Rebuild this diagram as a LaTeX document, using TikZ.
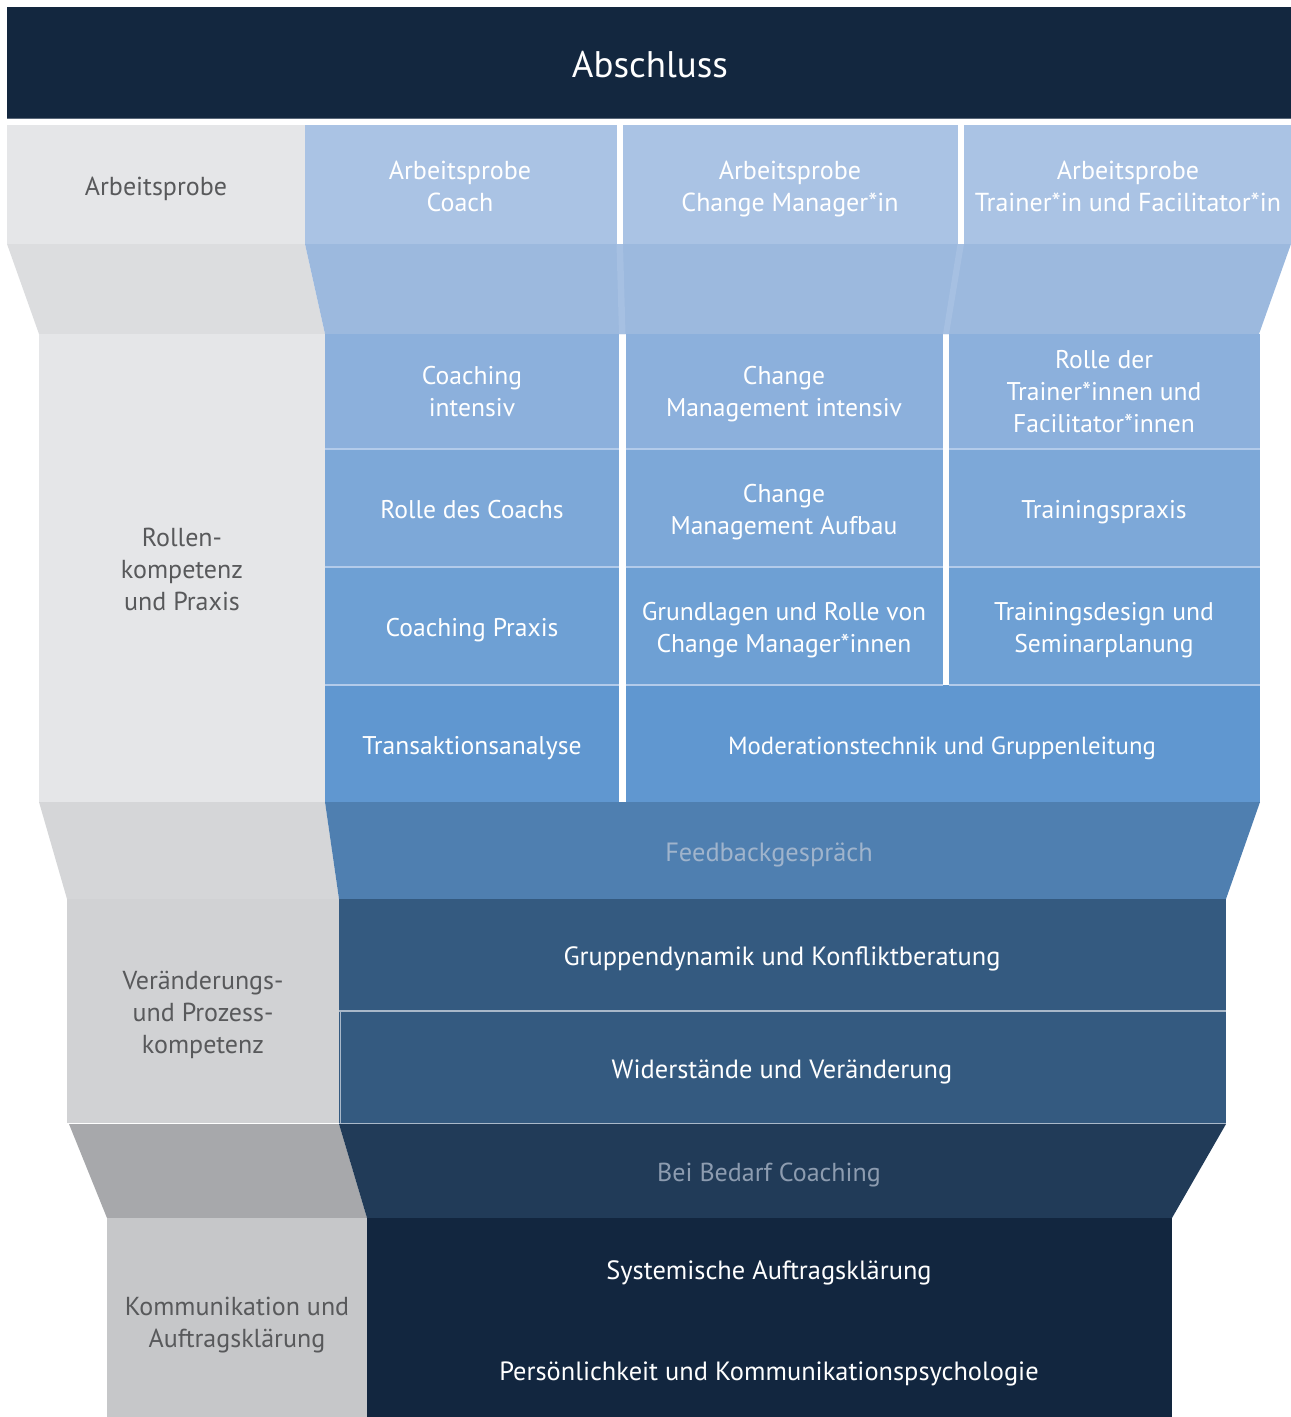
\documentclass[tikz,border=0pt]{standalone}
\usepackage{fontspec}
\setmainfont{PT Sans}
\newcommand\Ln{\rule[-7pt]{0pt}{32pt}}
\definecolor{banner}{HTML}{13273F}
\definecolor{grayA}{HTML}{E5E6E8}
\definecolor{grayT1}{HTML}{DCDDDF}
\definecolor{blueA}{HTML}{AAC3E4}
\definecolor{blueT1}{HTML}{9CB9DE}
\definecolor{stripeT1}{HTML}{A6C0E2}
\definecolor{gridA}{HTML}{8CB0DC}
\definecolor{gridB}{HTML}{7DA8D8}
\definecolor{gridC}{HTML}{6EA0D4}
\definecolor{gridD}{HTML}{6097D0}
\definecolor{gridLine}{HTML}{B3CBEA}
\definecolor{grayT2}{HTML}{D5D6D8}
\definecolor{blueT2}{HTML}{4F7FB0}
\definecolor{grayC}{HTML}{D1D2D4}
\definecolor{blueC}{HTML}{345A80}
\definecolor{lineC}{HTML}{A9B8C9}
\definecolor{grayT3}{HTML}{A7A8AB}
\definecolor{blueT3}{HTML}{213B58}
\definecolor{grayD}{HTML}{C6C7C9}
\definecolor{blueD}{HTML}{12263F}
\definecolor{labelgray}{HTML}{58595B}
\definecolor{fbtext}{HTML}{A0B4CC}
\definecolor{bbtext}{HTML}{8D9CB0}
\begin{document}
\begin{tikzpicture}[x=1pt,y=-1pt,
  txt/.style={align=center,inner sep=0pt,font=\fontsize{26}{32}\selectfont},
  gridtxt/.style={txt,text=white,font=\fontsize{25.6}{32}\selectfont},
  wtxt/.style={txt,text=white},
  gtxt/.style={txt,text=labelgray},
  sepline/.style={line width=1.5pt}]
\useasboundingbox (0,0) rectangle (1291,1417);
% banner
\fill[banner] (7,7) rectangle (1291,118);
\draw[line width=1pt,color=banner!70!white] (7,118) -- (1291,118);
\node[wtxt,font=\fontsize{37}{44}\selectfont] (abschluss) at (650,64) {\rule[-6pt]{0pt}{38pt}Abschluss};
% row 1: Arbeitsprobe
\fill[grayA] (7,125) rectangle (305,244);
\fill[blueA] (305,125) rectangle (616.5,244);
\fill[blueA] (623,125) rectangle (957.5,244);
\fill[blueA] (964,125) rectangle (1291,244);
\node[gtxt] (ap) at (156,186) {\Ln Arbeitsprobe};
\node[wtxt] (apc) at (460,186) {\Ln Arbeitsprobe\\\Ln Coach};
\node[wtxt] (apcm) at (790,186) {\Ln Arbeitsprobe\\\Ln Change Manager*in};
\node[wtxt] (aptf) at (1128,186) {\Ln Arbeitsprobe\\\Ln Trainer*in und Facilitator*in};
% trapezoid 1
\fill[grayT1] (7,244) -- (305,244) -- (325,334) -- (39,334) -- cycle;
\fill[blueT1] (305,244) -- (1291,244) -- (1259,334) -- (325,334) -- cycle;
\fill[stripeT1] (616.5,244) -- (623,244) -- (625.5,334) -- (619,334) -- cycle;
\fill[stripeT1] (957.5,244) -- (964,244) -- (949,334) -- (943,334) -- cycle;
% section Rollen
\fill[grayA] (39,334) rectangle (325,802);
\node[gtxt] (rollen) at (182,569) {\Ln Rollen-\\\Ln kompetenz\\\Ln und Praxis};
% grid rows
\foreach \ya/\yb/\c in {334/449/gridA,449/567/gridB,567/685/gridC,685/802/gridD}{
  \fill[\c] (325,\ya) rectangle (619,\yb);
}
\foreach \ya/\yb/\c in {334/449/gridA,449/567/gridB,567/685/gridC}{
  \fill[\c] (625.5,\ya) rectangle (943,\yb);
  \fill[\c] (949,\ya) rectangle (1260,\yb);
}
\fill[gridD] (625.5,685) rectangle (1260,802);
\foreach \yy in {449,567,685}{
  \draw[sepline,gridLine] (325,\yy) -- (619,\yy);
  \draw[sepline,gridLine] (625.5,\yy) -- (943,\yy);
  \draw[sepline,gridLine] (949,\yy) -- (1260,\yy);
}
\node[gridtxt] (ci) at (472,391) {\Ln Coaching\\\Ln intensiv};
\node[gridtxt] (cmi) at (784,391) {\Ln Change\\\Ln Management intensiv};
\node[gridtxt] (rtf) at (1104,391) {\Ln Rolle der\\\Ln Trainer*innen und\\\Ln Facilitator*innen};
\node[gridtxt] (rdc) at (472,509) {\Ln Rolle des Coachs};
\node[gridtxt] (cma) at (784,509) {\Ln Change\\\Ln Management Aufbau};
\node[gridtxt] (tp) at (1104,509) {\Ln Trainingspraxis};
\node[gridtxt] (cp) at (472,627) {\Ln Coaching Praxis};
\node[gridtxt] (grcm) at (784,627) {\Ln Grundlagen und Rolle von\\\Ln Change Manager*innen};
\node[gridtxt] (tds) at (1104,627) {\Ln Trainingsdesign und\\\Ln Seminarplanung};
\node[gridtxt] (ta) at (472,745) {\Ln Transaktionsanalyse};
\node[gridtxt,font=\fontsize{24.8}{32}\selectfont] (mg) at (942,745) {\Ln Moderationstechnik und Gruppenleitung};
% trapezoid 2
\fill[grayT2] (39,802) -- (325,802) -- (339,899) -- (67,899) -- cycle;
\fill[blueT2] (325,802) -- (1260,802) -- (1226,899) -- (339,899) -- cycle;
\node[txt,text=fbtext,font=\fontsize{26.4}{32}\selectfont] (fb) at (769,852) {\Ln Feedbackgespräch};
% section 3
\fill[grayC] (67,899) rectangle (339,1123);
\fill[blueC] (339,899) rectangle (1226,1123);
\draw[sepline,lineC] (339,1011) -- (1226,1011);
\draw[line width=1pt,lineC] (340,1011) -- (340,1123);
\node[gtxt] (vpk) at (203,1012) {\Ln Veränderungs-\\\Ln und Prozess-\\\Ln kompetenz};
\node[wtxt,font=\fontsize{26.4}{32}\selectfont] (gk) at (782,956) {\Ln Gruppendynamik und Konfliktberatung};
\node[wtxt,font=\fontsize{26.4}{32}\selectfont] (wv) at (782,1069) {\Ln Widerstände und Veränderung};
% trapezoid 3
\fill[grayT3] (69,1124) -- (339,1124) -- (367,1218) -- (107,1218) -- cycle;
\fill[blueT3] (339,1124) -- (1226,1124) -- (1172,1218) -- (367,1218) -- cycle;
\draw[line width=1pt,white] (67,1123.5) -- (339,1123.5);
\draw[line width=1pt,lineC] (339,1123.5) -- (1226,1123.5);
\node[txt,text=bbtext] (bb) at (769,1172) {\Ln Bei Bedarf Coaching};
% section 4
\fill[grayD] (107,1218) rectangle (367,1417);
\fill[blueD] (367,1218) rectangle (1172,1417);
\node[gtxt] (ka) at (237,1322) {\Ln Kommunikation und\\\Ln Auftragsklärung};
\node[wtxt,font=\fontsize{26.4}{32}\selectfont] (sa) at (769,1270) {\Ln Systemische Auftragsklärung};
\node[wtxt,font=\fontsize{26.4}{32}\selectfont] (pk) at (769,1371) {\Ln Persönlichkeit und Kommunikationspsychologie};
\end{tikzpicture}
\end{document}
